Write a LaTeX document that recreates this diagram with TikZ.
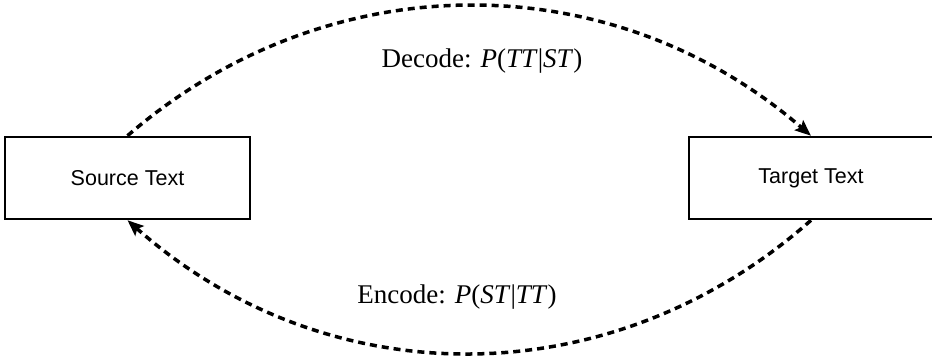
\documentclass[tikz,border=0pt]{standalone}
\usepackage{fontspec}
\setmainfont{Liberation Serif}
\newfontfamily\boxfont{Liberation Sans}
\usetikzlibrary{arrows.meta}
\begin{document}
\begin{tikzpicture}[x=1pt,y=-1pt,
  textbox/.style={draw, line width=2.5pt, minimum width=245pt, minimum height=82pt, inner sep=0pt, font=\boxfont\fontsize{21.5}{24}\selectfont},
  flow/.style={line width=3.5pt, dash pattern=on 7pt off 5pt, -{Stealth[length=16pt,width=13pt,inset=3pt]}},
  lbl/.style={anchor=base, inner sep=0pt, font=\fontsize{27}{30}\selectfont}]
\useasboundingbox (0,0) rectangle (932,357);
\fill[white] (0,0) rectangle (932,357);
\node[textbox] (src) at (127.5,178) {Source Text};
\node[textbox, minimum width=244pt] (tgt) at (811,178) {Target Text};
\draw[flow] (src.north) .. controls +(200,-173) and +(-200,-173) .. (tgt.north);
\draw[flow] (tgt.south) .. controls +(-200,177) and +(200,177) .. (src.south);
\node[lbl] (dec) at (482,67) {Decode: \textit{P}(\textit{TT}|\textit{ST})};
\node[lbl] (enc) at (457,303) {Encode: \textit{P}(\textit{ST}|\textit{TT})};
\end{tikzpicture}
\end{document}
